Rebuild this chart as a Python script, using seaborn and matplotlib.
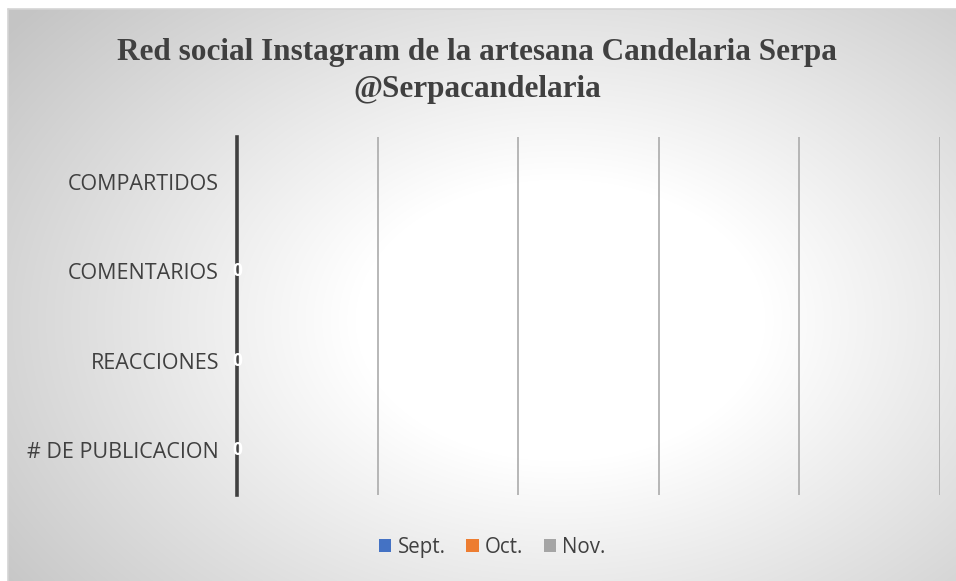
import matplotlib
matplotlib.use("Agg")
import matplotlib.pyplot as plt
from matplotlib.patches import Patch
import numpy as np
import pandas as pd
import seaborn as sns

# data (all counts are zero; COMPARTIDOS has no value)
categorias = ["# DE PUBLICACION", "REACCIONES", "COMENTARIOS", "COMPARTIDOS"]
meses = ["Sept.", "Oct.", "Nov."]
sept = [0, 0, 0, np.nan]
octu = [0, 0, 0, np.nan]
nov = [0, 0, 0, np.nan]
colores = ["#4472C4", "#ED7D31", "#A5A5A5"]

df = pd.DataFrame({
    "Categoria": categorias * 3,
    "Mes": [m for m in meses for _ in categorias],
    "Valor": sept + octu + nov,
})

sns.set_style("white")
plt.rcParams["font.family"] = ["Open Sans", "DejaVu Sans"]

fig = plt.figure(figsize=(9.56, 5.81), dpi=100)

# radial gradient background, white in the middle and grey at the edges
bg = fig.add_axes([0, 0, 1, 1], zorder=-2)
h, w = 581, 956
yy, xx = np.mgrid[0:h, 0:w]
r = np.sqrt(((xx - 560) / 640.0) ** 2 + ((yy - 320) / 440.0) ** 2)
shade = np.clip(1.0 - 0.24 * np.clip(r - 0.32, 0, None) / 0.8, 0.77, 1.0)
img = np.dstack([shade] * 3)
img[:9, :, :] = 1.0
img[:, :8, :] = 1.0
bg.imshow(img, extent=(0, w, h, 0), aspect="auto", interpolation="bilinear")
bg.plot([8, w], [9, 9], color="#d4d4d4", lw=1.2)
bg.plot([8, 8], [9, h], color="#d4d4d4", lw=1.2)
bg.set_xlim(0, w)
bg.set_ylim(h, 0)
bg.axis("off")

ax = fig.add_axes([237 / 956, 1 - 495 / 581, (940 - 237) / 956, (495 - 137) / 581])
ax.set_facecolor("none")

order = categorias[::-1]
sns.barplot(data=df, y="Categoria", x="Valor", hue="Mes", order=order,
            hue_order=meses, palette=colores, orient="h", ax=ax, legend=False,
            width=0.6)

ax.set_xlim(0, 5)
ax.set_ylim(3.5, -0.5)
ax.set_xticks(np.arange(1, 6))
ax.set_xticklabels([])
ax.grid(axis="x", color="#ababab", lw=1.2)
ax.grid(axis="y", visible=False)
ax.set_axisbelow(True)
for side in ["top", "right", "bottom"]:
    ax.spines[side].set_visible(False)
ax.spines["left"].set_color("#404040")
ax.spines["left"].set_linewidth(2.6)
ax.spines["left"].set_zorder(3)
ax.tick_params(axis="both", length=0)
ax.tick_params(axis="y", labelsize=15.5, colors="#404040", pad=13)
ax.set_xlabel("")
ax.set_ylabel("")

# value labels of the middle series
for i, cat in enumerate(order):
    v = octu[categorias.index(cat)]
    if not np.isnan(v):
        ax.text(v + 0.005, i, f"{v:.0f}", color="white", ha="center", va="center",
                fontsize=12.5, fontweight="bold", zorder=4)

fig.text(0.499, 0.878, "Red social Instagram de la artesana Candelaria Serpa\n@Serpacandelaria",
         ha="center", va="center", fontsize=22.5, fontweight="bold",
         family=["Liberation Serif"], color="#404040", linespacing=1.35)

handles = [Patch(facecolor=c, edgecolor="none") for c in colores]
fig.legend(handles, meses, loc="center", bbox_to_anchor=(0.515, 0.058), ncol=3,
           frameon=False, fontsize=14.8, handlelength=0.6, handleheight=0.6,
           handletextpad=0.3, columnspacing=1.0, labelcolor="#404040")

fig.savefig("out.png", dpi=100)
